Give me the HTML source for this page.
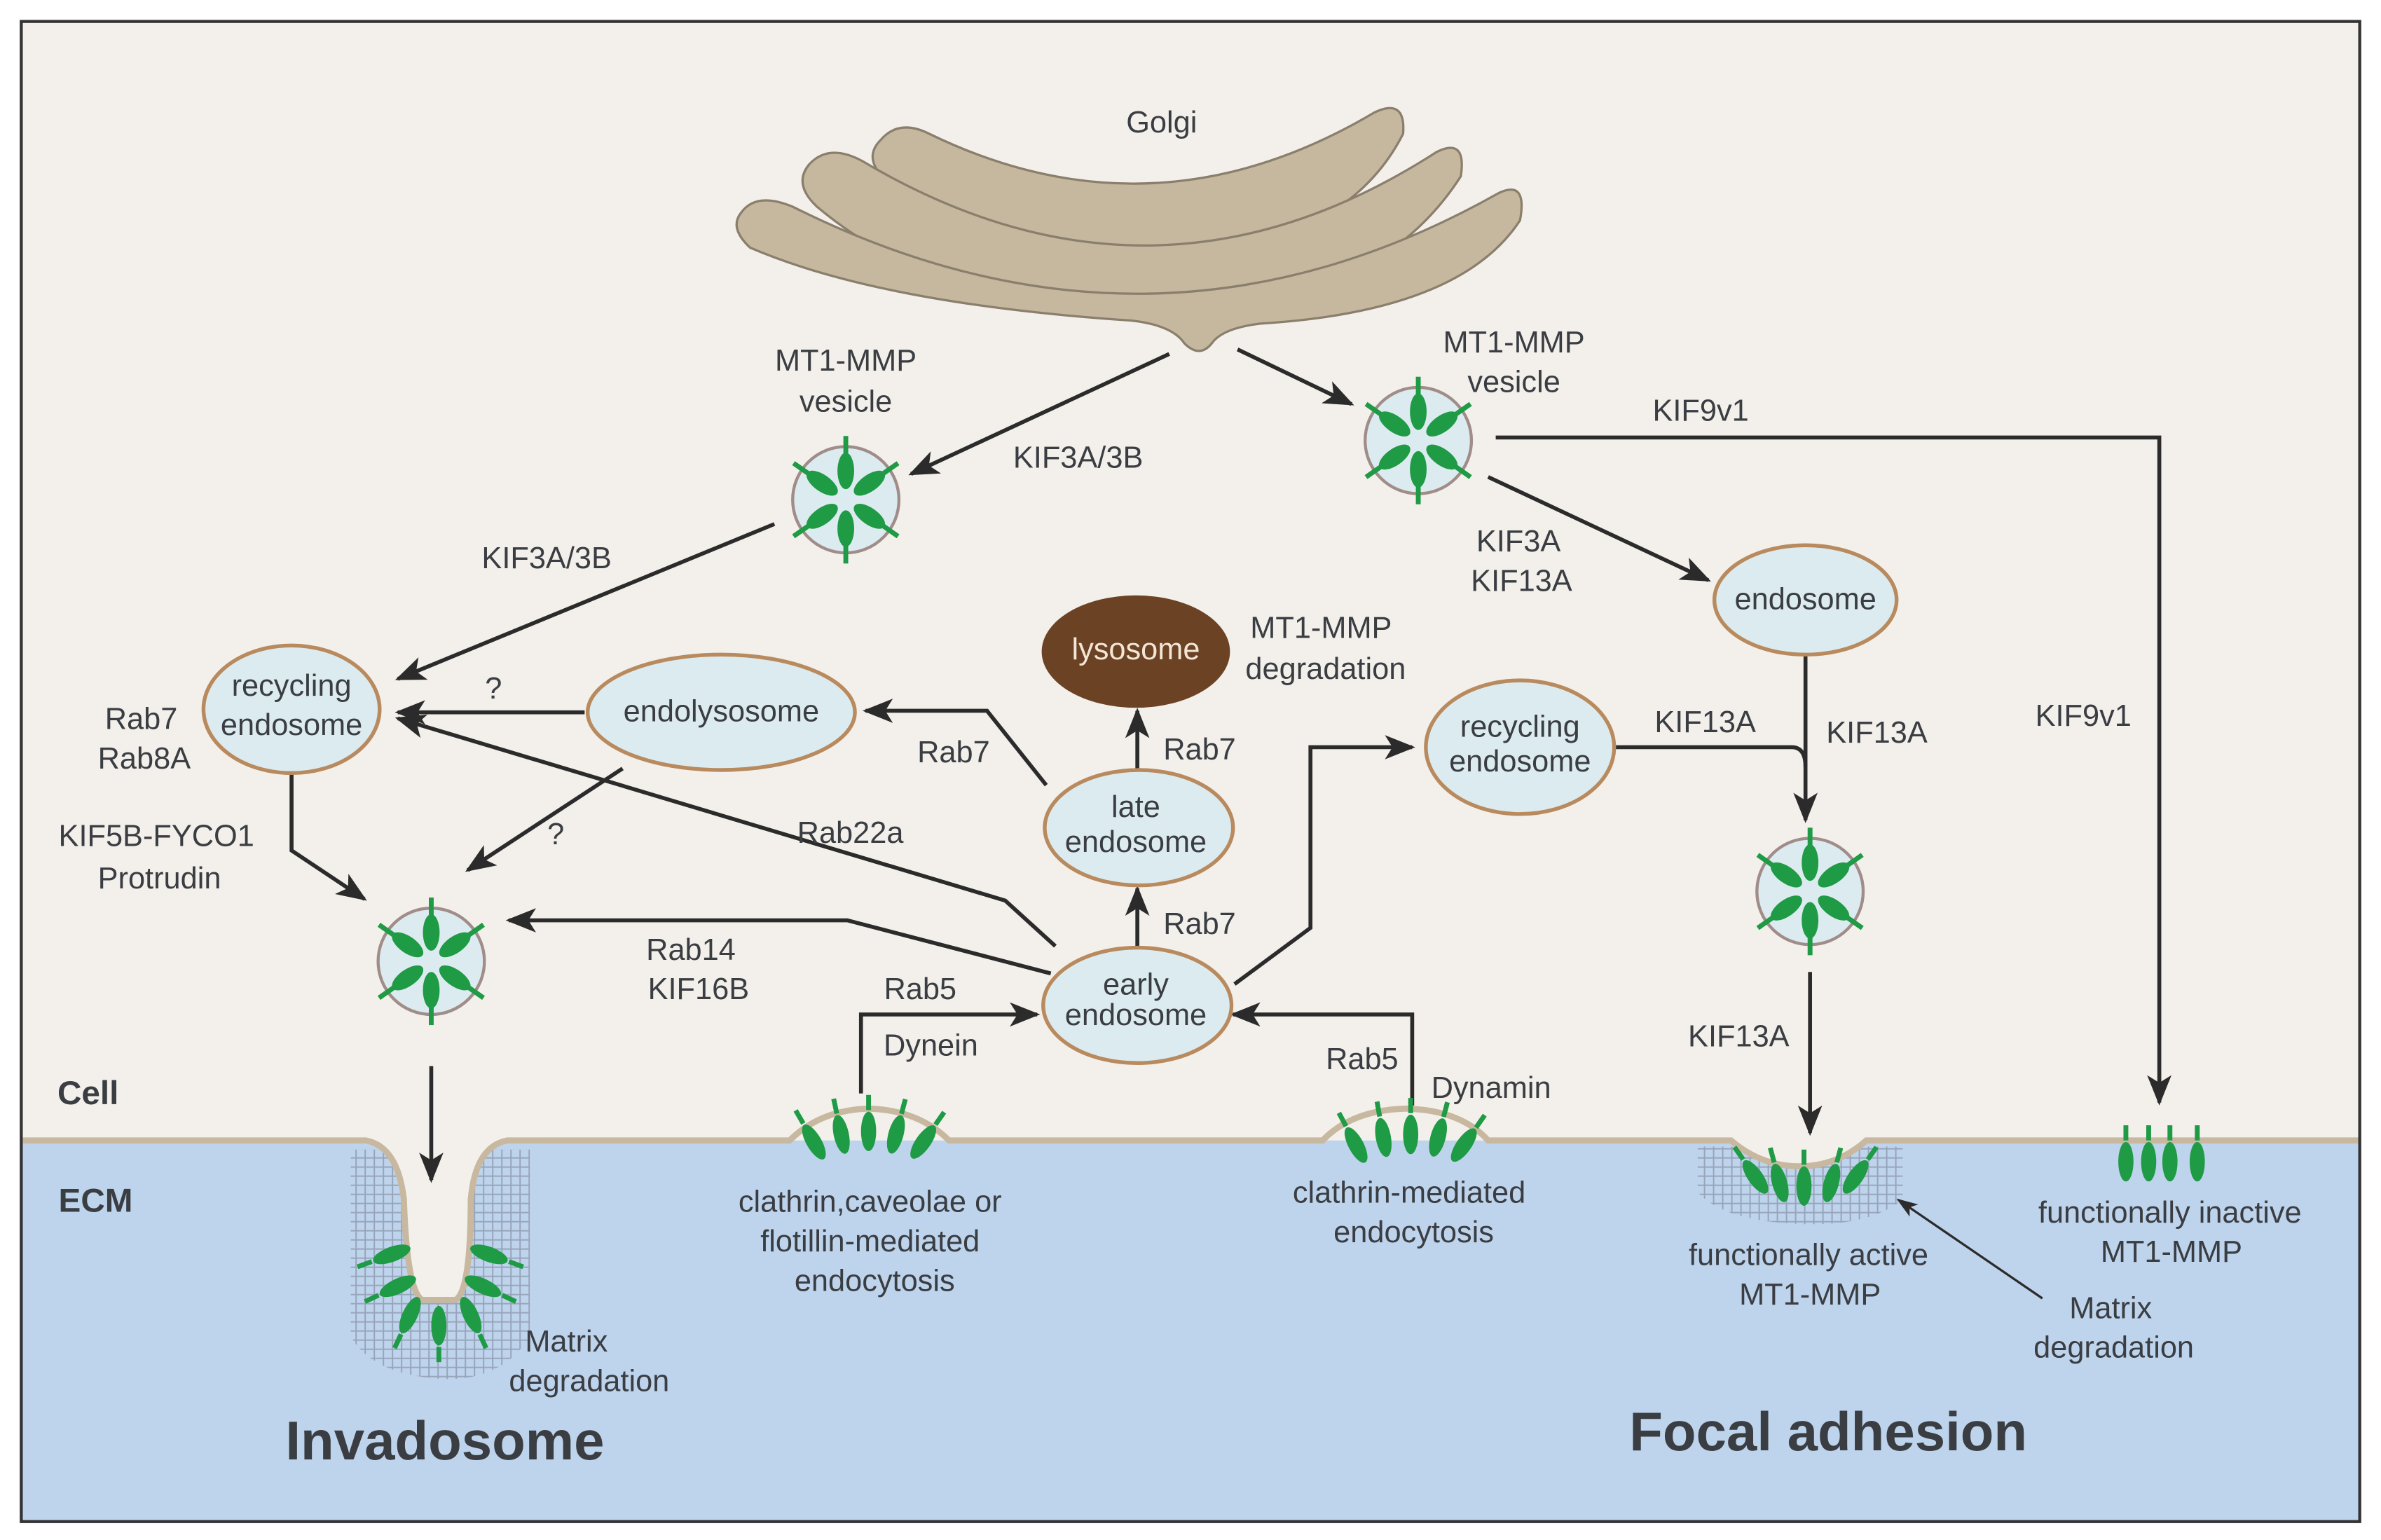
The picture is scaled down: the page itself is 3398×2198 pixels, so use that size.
<!DOCTYPE html>
<html><head><meta charset="utf-8"><style>
html,body{margin:0;padding:0;background:#fff;}
svg{display:block;}
text{font-family:"Liberation Sans",Arial,sans-serif;fill:#3a3d42;font-size:20px;text-anchor:middle;}
</style></head><body>
<svg width="3398" height="2198" viewBox="0 0 1568 1014" xmlns="http://www.w3.org/2000/svg">
<defs>
<marker id="ar" markerUnits="userSpaceOnUse" markerWidth="20" markerHeight="20" viewBox="0 0 20 20" refX="18" refY="10" orient="auto">
<path d="M0,2 L20,10 L0,18 L5,10 Z" fill="#2b2b2b"/>
</marker>
<marker id="ar2" markerUnits="userSpaceOnUse" markerWidth="14" markerHeight="14" viewBox="0 0 20 20" refX="18" refY="10" orient="auto">
<path d="M0,3 L20,10 L0,17 L5,10 Z" fill="#2b2b2b"/>
</marker>
<pattern id="mesh" width="6" height="6" patternUnits="userSpaceOnUse">
<path d="M0,0.5 H6 M0.5,0 V6" stroke="#8d98ad" stroke-width="0.9" fill="none"/>
</pattern>
<g id="sp"><line x1="0" y1="-24" x2="0" y2="-14" stroke="#1f9a45" stroke-width="3.2"/><ellipse cx="0" cy="0" rx="5" ry="13" fill="#1f9a45"/></g>
<g id="ves">
<circle r="35" fill="#dcebf0" stroke="#a08c88" stroke-width="2"/>
<g transform="rotate(0)"><line y1="-28" y2="-42" stroke="#1f9a45" stroke-width="3.2"/><ellipse cy="-19" rx="5.5" ry="12" fill="#1f9a45"/></g>
<g transform="rotate(55)"><line y1="-28" y2="-42" stroke="#1f9a45" stroke-width="3.2"/><ellipse cy="-19" rx="5.5" ry="12" fill="#1f9a45"/></g>
<g transform="rotate(125)"><line y1="-28" y2="-42" stroke="#1f9a45" stroke-width="3.2"/><ellipse cy="-19" rx="5.5" ry="12" fill="#1f9a45"/></g>
<g transform="rotate(180)"><line y1="-28" y2="-42" stroke="#1f9a45" stroke-width="3.2"/><ellipse cy="-19" rx="5.5" ry="12" fill="#1f9a45"/></g>
<g transform="rotate(235)"><line y1="-28" y2="-42" stroke="#1f9a45" stroke-width="3.2"/><ellipse cy="-19" rx="5.5" ry="12" fill="#1f9a45"/></g>
<g transform="rotate(305)"><line y1="-28" y2="-42" stroke="#1f9a45" stroke-width="3.2"/><ellipse cy="-19" rx="5.5" ry="12" fill="#1f9a45"/></g>
</g>
</defs>
<rect width="1568" height="1014" fill="#fff"/>
<rect x="14" y="14" width="1540" height="988" fill="#f3f0eb"/>
<rect x="14" y="751" width="1540" height="251" fill="#bed4ec"/>
<path d="M231,757 H349 V880 Q330,910 290,908 Q245,905 231,880 Z" fill="url(#mesh)" opacity="0.8"/>
<path d="M1118,755 H1253 V790 Q1230,808 1185,806 Q1135,804 1118,785 Z" fill="url(#mesh)" opacity="0.8"/>
<path d="M14,751 H241 Q262,755 266,790 Q268,850 278,856 H300 Q310,850 310,790 Q313,755 334,751 H520 Q540,731 572,730 Q605,731 625,751 H871 Q890,731 926,730 Q962,731 980,751 H1140 Q1160,768 1185,768 Q1210,768 1229,751 H1554 V740 H14 Z" fill="#f3f0eb"/>
<path d="M14,751 H241 Q262,755 266,790 Q268,850 278,856 H300 Q310,850 310,790 Q313,755 334,751 H520 Q540,731 572,730 Q605,731 625,751 H871 Q890,731 926,730 Q962,731 980,751 H1140 Q1160,768 1185,768 Q1210,768 1229,751 H1554" fill="none" stroke="#c8b8a0" stroke-width="4"/>
<rect x="14" y="14" width="1540" height="988" fill="none" stroke="#333" stroke-width="2"/>
<g fill="#c5b89f" stroke="#8a7e6c" stroke-width="1.5">
<path d="M580,92 Q592,78 612,88 Q760,160 905,74 Q926,64 924,88 Q885,165 760,170 Q640,170 583,118 Q568,104 580,92 Z"/>
<path d="M533,108 Q546,94 568,106 Q760,220 946,100 Q966,90 962,116 Q905,205 760,208 Q620,205 538,136 Q522,121 533,108 Z"/>
<path d="M488,140 Q498,126 522,136 Q760,255 987,127 Q1006,118 1001,145 Q962,205 830,213 Q805,216 798,226 Q790,236 780,226 Q772,214 745,211 Q580,200 494,163 Q480,150 488,140 Z"/>
</g>
<g fill="none" stroke="#2b2b2b" stroke-width="2.6">
<path d="M770,233 L600,312" marker-end="url(#ar)"/>
<path d="M815,230 L890,266" marker-end="url(#ar)"/>
<path d="M510,345 L262,447" marker-end="url(#ar)"/>
<path d="M985,288 H1422 V726" marker-end="url(#ar)"/>
<path d="M980,314 L1125,382" marker-end="url(#ar)"/>
<path d="M1189,432 V540" marker-end="url(#ar)"/>
<path d="M1062,492 H1180 Q1189,492 1189,505"/>
<path d="M1192,640 V746" marker-end="url(#ar)"/>
<path d="M385,469 H262" marker-end="url(#ar)"/>
<path d="M410,506 L308,573" marker-end="url(#ar)"/>
<path d="M192,510 V560 L240,592" marker-end="url(#ar)"/>
<path d="M695,623 L662,593 L262,473" marker-end="url(#ar)"/>
<path d="M692,641 L558,606 H335" marker-end="url(#ar)"/>
<path d="M749,624 V585" marker-end="url(#ar)"/>
<path d="M749,507 V468" marker-end="url(#ar)"/>
<path d="M689,517 L650,468 H570" marker-end="url(#ar)"/>
<path d="M813,648 L863,611 V492 H930" marker-end="url(#ar)"/>
<path d="M567,720 V668 H683" marker-end="url(#ar)"/>
<path d="M930,728 V668 H812" marker-end="url(#ar)"/>
<path d="M284,702 V777" marker-end="url(#ar)"/>
</g>
<path d="M1345,855 L1250,790" fill="none" stroke="#2b2b2b" stroke-width="1.5" marker-end="url(#ar2)"/>
<g stroke="#b88a5e" stroke-width="2.5" fill="#dcebf0">
<ellipse cx="192" cy="467" rx="58" ry="42"/>
<ellipse cx="475" cy="469" rx="88" ry="38"/>
<ellipse cx="750" cy="545" rx="62" ry="38"/>
<ellipse cx="749" cy="662" rx="62" ry="38"/>
<ellipse cx="1001" cy="492" rx="62" ry="44"/>
<ellipse cx="1189" cy="395" rx="60" ry="36"/>
</g>
<ellipse cx="748" cy="429" rx="62" ry="37" fill="#6b4224"/>
<use href="#ves" transform="translate(557,329)"/>
<use href="#ves" transform="translate(934,290)"/>
<use href="#ves" transform="translate(284,633)"/>
<use href="#ves" transform="translate(1192,587)"/>
<use href="#sp" transform="translate(536,752) rotate(-30)"/>
<use href="#sp" transform="translate(554,747) rotate(-12)"/>
<use href="#sp" transform="translate(572,745)"/>
<use href="#sp" transform="translate(590,747) rotate(15)"/>
<use href="#sp" transform="translate(608,752) rotate(35)"/>
<use href="#sp" transform="translate(893,754) rotate(-28)"/>
<use href="#sp" transform="translate(911,749) rotate(-10)"/>
<use href="#sp" transform="translate(929,747)"/>
<use href="#sp" transform="translate(947,749) rotate(15)"/>
<use href="#sp" transform="translate(964,754) rotate(35)"/>
<use href="#sp" transform="translate(1400,765)"/>
<use href="#sp" transform="translate(1415,765)"/>
<use href="#sp" transform="translate(1429,765)"/>
<use href="#sp" transform="translate(1447,765)"/>
<use href="#sp" transform="translate(1156,775) rotate(-35)"/>
<use href="#sp" transform="translate(1172,779) rotate(-15)"/>
<use href="#sp" transform="translate(1188,781)"/>
<use href="#sp" transform="translate(1206,779) rotate(15)"/>
<use href="#sp" transform="translate(1222,775) rotate(35)"/>
<use href="#sp" transform="translate(258,826) rotate(-110)"/>
<use href="#sp" transform="translate(322,826) rotate(110)"/>
<use href="#sp" transform="translate(262,847) rotate(-115)"/>
<use href="#sp" transform="translate(318,847) rotate(115)"/>
<use href="#sp" transform="translate(270,866) rotate(-155)"/>
<use href="#sp" transform="translate(310,866) rotate(155)"/>
<use href="#sp" transform="translate(289,873) rotate(180)"/>
<text x="765" y="87">Golgi</text>
<text x="557" y="244">MT1-MMP</text><text x="557" y="271">vesicle</text>
<text x="997" y="232">MT1-MMP</text><text x="997" y="258">vesicle</text>
<text x="1120" y="277">KIF9v1</text>
<text x="710" y="308">KIF3A/3B</text>
<text x="360" y="374">KIF3A/3B</text>
<text x="1000" y="363">KIF3A</text><text x="1002" y="389">KIF13A</text>
<text x="1189" y="401">endosome</text>
<text x="748" y="434" style="fill:#f3e6d6">lysosome</text>
<text x="870" y="420">MT1-MMP</text><text x="873" y="447">degradation</text>
<text x="192" y="458">recycling</text><text x="192" y="484">endosome</text>
<text x="93" y="480">Rab7</text><text x="95" y="506">Rab8A</text>
<text x="325" y="460">?</text>
<text x="475" y="475">endolysosome</text>
<text x="628" y="502">Rab7</text>
<text x="790" y="500">Rab7</text>
<text x="1372" y="478">KIF9v1</text>
<text x="1001" y="485">recycling</text><text x="1001" y="508">endosome</text>
<text x="1123" y="482">KIF13A</text><text x="1236" y="489">KIF13A</text>
<text x="748" y="538">late</text><text x="748" y="561">endosome</text>
<text x="103" y="557">KIF5B-FYCO1</text><text x="105" y="585">Protrudin</text>
<text x="366" y="556">?</text>
<text x="560" y="555">Rab22a</text>
<text x="790" y="615">Rab7</text>
<text x="455" y="632">Rab14</text><text x="460" y="658">KIF16B</text>
<text x="606" y="658">Rab5</text><text x="613" y="695">Dynein</text>
<text x="748" y="655">early</text><text x="748" y="675">endosome</text>
<text x="897" y="704">Rab5</text><text x="982" y="723">Dynamin</text>
<text x="1145" y="689">KIF13A</text>
<text x="58" y="727" style="font-weight:bold;font-size:22px">Cell</text>
<text x="63" y="798" style="font-weight:bold;font-size:22px">ECM</text>
<text x="573" y="798">clathrin,caveolae or</text><text x="573" y="824">flotillin-mediated</text><text x="576" y="850">endocytosis</text>
<text x="928" y="792">clathrin-mediated</text><text x="931" y="818">endocytosis</text>
<text x="1429" y="805">functionally inactive</text><text x="1430" y="831">MT1-MMP</text>
<text x="1191" y="833">functionally active</text><text x="1192" y="859">MT1-MMP</text>
<text x="1390" y="868">Matrix</text><text x="1392" y="894">degradation</text>
<text x="373" y="890">Matrix</text><text x="388" y="916">degradation</text>
<text x="293" y="961" style="font-weight:bold;font-size:36px">Invadosome</text>
<text x="1204" y="955" style="font-weight:bold;font-size:36px">Focal adhesion</text>
</svg>
</body></html>
